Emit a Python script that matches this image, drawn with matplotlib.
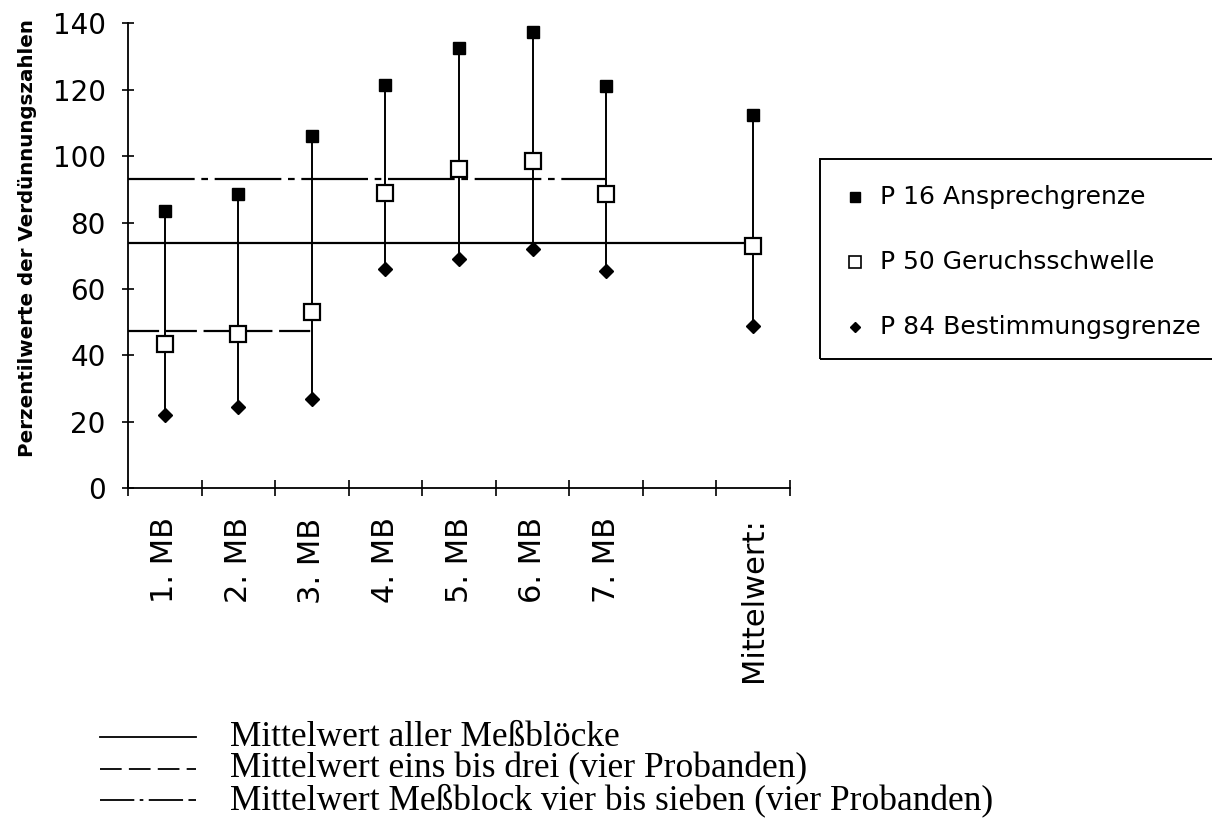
import matplotlib

matplotlib.use("Agg")
import matplotlib.pyplot as plt
import numpy as np
from matplotlib.lines import Line2D
from matplotlib.patches import Rectangle

# data
categories = ["1. MB", "2. MB", "3. MB", "4. MB", "5. MB", "6. MB", "7. MB", "", "Mittelwert:"]
p16 = [83.5, 88.5, 106, 121.5, 132.5, 137.5, 121, None, 112.5]
p50 = [43.5, 46.5, 53, 89, 96, 98.5, 88.5, None, 73]
p84 = [22, 24.5, 27, 66, 69, 72, 65.5, None, 49]
mean_all = 74
mean_1_3 = 47.5
mean_4_7 = 93
yticks = [0, 20, 40, 60, 80, 100, 120, 140]

series_labels = ["P 16 Ansprechgrenze", "P 50 Geruchsschwelle", "P 84 Bestimmungsgrenze"]
note_labels = [
    "Mittelwert aller Meßblöcke",
    "Mittelwert eins bis drei (vier Probanden)",
    "Mittelwert Meßblock vier bis sieben (vier Probanden)",
]

W, H = 1212, 835
fig = plt.figure(figsize=(W / 100, H / 100), dpi=100, facecolor="white")
ax = fig.add_axes([128 / W, 1 - 488.3 / H, (790 - 128) / W, (488.3 - 23.3) / H])

x = np.arange(1, len(categories) + 1)
valid = [i for i, v in enumerate(p16) if v is not None]

dash = (0, (14, 3))
dashdot = (0, (30, 3, 3, 3))
lw = 1.6

# horizontal mean lines, starting at the y axis
ax.plot([0.5, x[2]], [mean_1_3] * 2, color="black", lw=lw, linestyle=dash)
ax.plot([0.5, x[6]], [mean_4_7] * 2, color="black", lw=lw, linestyle=dashdot)
ax.plot([0.5, x[8]], [mean_all] * 2, color="black", lw=lw)

for i in valid:
    ax.plot([x[i], x[i]], [p84[i], p16[i]], color="black", lw=1.4, zorder=2)

xv = x[valid]
ax.plot(xv, [p16[i] for i in valid], "s", ms=9, color="black", zorder=3, ls="none")
ax.plot(xv, [p50[i] for i in valid], "s", ms=11, mfc="white", mec="black", mew=1.6, zorder=4, ls="none")
ax.plot(xv, [p84[i] for i in valid], "D", ms=7, color="black", zorder=3, ls="none")

ax.set_xlim(0.5, len(categories) + 0.5)
ax.set_ylim(0, 140)
for s in ["top", "right"]:
    ax.spines[s].set_visible(False)
for s in ["left", "bottom"]:
    ax.spines[s].set_linewidth(1.3)

ax.set_yticks(yticks)
ax.tick_params(axis="y", direction="inout", length=8, width=1.2, pad=12, labelsize=20)
ax.set_xticks(np.arange(0.5, len(categories) + 1, 1.0))
ax.set_xticklabels([])
ax.tick_params(axis="x", which="major", direction="inout", length=11, width=1.2)
ax.set_xticks(x, minor=True)
ax.set_xticklabels(categories, minor=True, rotation=90, fontsize=22)
ax.tick_params(axis="x", which="minor", length=0, pad=21)

fig.text(28 / W, 1 - 238 / H, "Perzentilwerte der Verdünnungszahlen", rotation=90,
         ha="center", va="center", fontsize=14.3, fontweight="bold")

# legend box, cut off at the right edge like the scan
fig.patches.append(Rectangle((820 / W, 1 - 359 / H), 500 / W, 200 / H, transform=fig.transFigure,
                             fill=False, edgecolor="black", lw=1.4))
leg_y = [197, 262, 327]
leg_style = [dict(marker="s", ms=7, color="black"),
             dict(marker="s", ms=8, mfc="white", mec="black", mew=1.2),
             dict(marker="D", ms=5.5, color="black")]
for yy, lab, st in zip(leg_y, series_labels, leg_style):
    fig.add_artist(Line2D([855 / W], [1 - yy / H], transform=fig.transFigure, ls="none", **st))
    fig.text(880 / W, 1 - yy / H, lab, ha="left", va="center", fontsize=18)

# line-style notes under the chart
note_y = [737, 769, 800]
note_ls = ["-", (0, (12, 4)), (0, (19, 3, 2, 3, 19, 3))]
for yy, lab, ls in zip(note_y, note_labels, note_ls):
    fig.add_artist(Line2D([100 / W, 196 / W], [1 - yy / H] * 2, transform=fig.transFigure,
                          color="black", lw=1.3, linestyle=ls))
    fig.text(230 / W, 1 - yy / H, lab, ha="left", va="center", fontsize=25.5,
             family="Liberation Serif")

fig.savefig("out.png", dpi=100)
